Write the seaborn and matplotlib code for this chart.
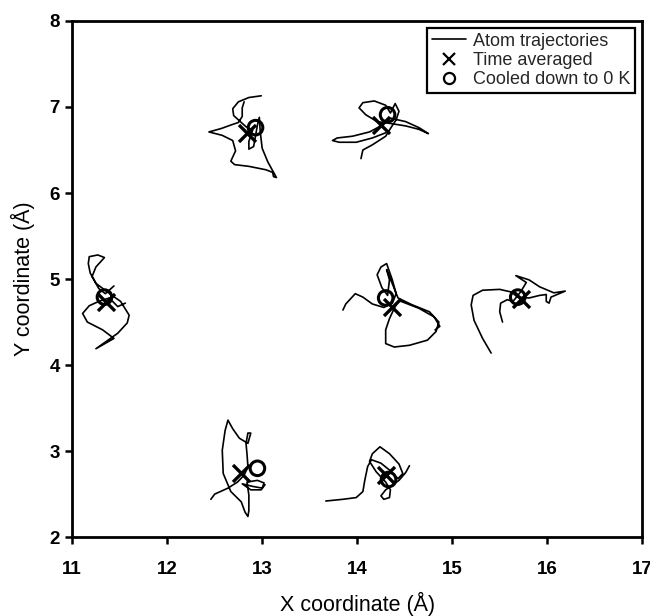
import numpy as np
import pandas as pd
import matplotlib
matplotlib.use("Agg")
import matplotlib.pyplot as plt
import seaborn as sns

# Trajectory samples (Å) for each of the seven atoms
traj1_x = [12.99, 12.86, 12.75, 12.69, 12.70, 12.76, 12.83, 12.90, 12.86, 12.86, 12.91, 12.92,
           12.95, 12.97, 12.98, 13.00, 13.06, 13.12, 13.15, 13.12, 13.11, 13.04, 12.86, 12.71,
           12.67, 12.72, 12.69, 12.58, 12.44, 12.57, 12.67, 12.75, 12.79, 12.79, 12.81]
traj1_y = [7.13, 7.11, 7.06, 6.98, 6.90, 6.84, 6.77, 6.73, 6.60, 6.51, 6.54, 6.60,
           6.79, 6.88, 6.71, 6.52, 6.36, 6.24, 6.18, 6.19, 6.24, 6.27, 6.31, 6.33,
           6.37, 6.49, 6.61, 6.67, 6.71, 6.75, 6.79, 6.82, 6.89, 6.99, 7.06]

traj2_x = [14.04, 14.06, 14.16, 14.30, 14.35, 14.41, 14.44, 14.40, 14.35, 14.30, 14.18, 14.06,
           14.02, 14.09, 14.21, 14.34, 14.51, 14.65, 14.75, 14.65, 14.51, 14.35, 14.25, 14.13,
           13.95, 13.79, 13.74, 13.81, 13.99, 14.16, 14.30]
traj2_y = [6.40, 6.50, 6.56, 6.66, 6.75, 6.85, 6.95, 7.04, 6.93, 7.02, 7.07, 7.05,
           6.99, 6.91, 6.83, 6.81, 6.78, 6.74, 6.69, 6.76, 6.83, 6.87, 6.78, 6.71,
           6.66, 6.64, 6.61, 6.59, 6.59, 6.64, 6.70]

traj3_x = [11.44, 11.35, 11.28, 11.21, 11.25, 11.34, 11.27, 11.18, 11.17, 11.19, 11.25, 11.42,
           11.51, 11.60, 11.58, 11.48, 11.25, 11.44, 11.32, 11.16, 11.11, 11.18, 11.28, 11.39,
           11.48, 11.56]
traj3_y = [4.92, 4.83, 4.89, 5.03, 5.14, 5.25, 5.28, 5.26, 5.18, 5.07, 4.95, 4.81,
           4.74, 4.58, 4.49, 4.37, 4.19, 4.31, 4.41, 4.50, 4.60, 4.69, 4.74, 4.78,
           4.68, 4.72]

traj4_x = [13.85, 13.88, 13.98, 14.06, 14.16, 14.28, 14.37, 14.41, 14.37, 14.31, 14.25, 14.21,
           14.26, 14.32, 14.34, 14.31, 14.43, 14.58, 14.76, 14.86, 14.83, 14.74, 14.55, 14.39,
           14.30, 14.30, 14.34, 14.39, 14.44, 14.65, 14.81, 14.87, 14.82]
traj4_y = [4.64, 4.71, 4.83, 4.79, 4.71, 4.67, 4.72, 4.83, 4.99, 5.18, 5.14, 5.05,
           4.90, 4.81, 4.99, 5.11, 4.78, 4.70, 4.62, 4.50, 4.39, 4.29, 4.23, 4.21,
           4.25, 4.41, 4.54, 4.66, 4.75, 4.66, 4.56, 4.45, 4.41]

traj5_x = [15.41, 15.32, 15.23, 15.20, 15.22, 15.32, 15.50, 15.62, 15.69, 15.81, 15.92, 15.99,
           15.99, 16.02, 16.04, 16.19, 16.07, 15.92, 15.81, 15.67, 15.78, 15.72, 15.64, 15.58,
           15.51, 15.50, 15.53]
traj5_y = [4.14, 4.31, 4.52, 4.70, 4.81, 4.87, 4.88, 4.85, 4.79, 4.78, 4.81, 4.82,
           4.74, 4.72, 4.79, 4.86, 4.84, 4.91, 4.99, 5.04, 4.96, 4.85, 4.74, 4.76,
           4.72, 4.62, 4.50]

traj6_x = [12.46, 12.50, 12.64, 12.74, 12.81, 12.85, 12.84, 12.83, 12.85, 12.88, 12.85, 12.76,
           12.69, 12.64, 12.61, 12.58, 12.59, 12.67, 12.78, 12.82, 12.85, 12.86, 12.86, 12.84,
           12.95, 13.02, 13.00, 12.90, 12.79, 12.88, 12.99, 13.03]
traj6_y = [2.44, 2.50, 2.57, 2.64, 2.72, 2.82, 2.97, 3.09, 3.21, 3.21, 3.09, 3.15,
           3.26, 3.36, 3.24, 3.01, 2.74, 2.53, 2.41, 2.29, 2.24, 2.31, 2.49, 2.64,
           2.66, 2.63, 2.57, 2.59, 2.62, 2.55, 2.55, 2.61]

traj7_x = [13.67, 13.85, 13.99, 14.06, 14.08, 14.11, 14.15, 14.25, 14.34, 14.43, 14.48, 14.44,
           14.34, 14.24, 14.16, 14.13, 14.20, 14.30, 14.35, 14.34, 14.28, 14.25, 14.30, 14.44,
           14.51, 14.55]
traj7_y = [2.42, 2.44, 2.46, 2.53, 2.66, 2.82, 2.90, 2.86, 2.78, 2.68, 2.74, 2.85,
           2.97, 3.05, 2.97, 2.88, 2.76, 2.64, 2.55, 2.46, 2.44, 2.48, 2.55, 2.66,
           2.75, 2.83]

# Time-averaged positions (Å)
avg_x = [12.84, 14.25, 11.36, 14.37, 15.72, 12.78, 14.30]
avg_y = [6.70, 6.79, 4.73, 4.68, 4.77, 2.74, 2.72]

# Positions after cooling down to 0 K (Å)
cool_x = [12.93, 14.32, 11.34, 14.30, 15.69, 12.95, 14.33]
cool_y = [6.76, 6.91, 4.79, 4.78, 4.79, 2.80, 2.67]

x_ticks = [11, 12, 13, 14, 15, 16, 17]
y_ticks = [2, 3, 4, 5, 6, 7, 8]

trajectories = [
    (traj1_x, traj1_y), (traj2_x, traj2_y), (traj3_x, traj3_y), (traj4_x, traj4_y),
    (traj5_x, traj5_y), (traj6_x, traj6_y), (traj7_x, traj7_y),
]
frames = []
for i, (tx, ty) in enumerate(trajectories):
    frames.append(pd.DataFrame({"x": tx, "y": ty, "atom": i, "step": np.arange(len(tx))}))
traj_df = pd.concat(frames, ignore_index=True)
avg_df = pd.DataFrame({"x": avg_x, "y": avg_y})
cool_df = pd.DataFrame({"x": cool_x, "y": cool_y})

sns.set_theme(style="white")
plt.rcParams["font.family"] = ["Liberation Sans", "DejaVu Sans"]

fig = plt.figure(figsize=(6.5, 6.16), dpi=100)
ax = fig.add_axes([0.111, 0.128, 0.877, 0.838])

sns.lineplot(data=traj_df, x="x", y="y", units="atom", estimator=None, sort=False,
             color="black", linewidth=1.2, ax=ax, legend=False)
sns.scatterplot(data=avg_df, x="x", y="y", marker="x", s=150, color="black",
                linewidth=2.4, ax=ax, legend=False, zorder=3)
sns.scatterplot(data=cool_df, x="x", y="y", marker="o", s=110, facecolor="none",
                edgecolor="black", linewidth=2.2, ax=ax, legend=False, zorder=3)

ax.set_xlim(11, 17)
ax.set_ylim(2, 8)
ax.set_xticks(x_ticks)
ax.set_yticks(y_ticks)
ax.set_xticklabels([str(t) for t in x_ticks], fontsize=13.5, fontweight="bold")
ax.set_yticklabels([str(t) for t in y_ticks], fontsize=13.5, fontweight="bold")
ax.tick_params(axis="both", direction="out", length=5, width=1.8, color="black",
               bottom=True, left=True, pad=4, labelcolor="black")
ax.tick_params(axis="x", pad=12)
for sp in ax.spines.values():
    sp.set_color("black")
    sp.set_linewidth(2.0)

ax.set_xlabel("X coordinate (Å)", fontsize=15.5, color="black", labelpad=10)
ax.set_ylabel("Y coordinate (Å)", fontsize=15.5, color="black", labelpad=10)

handles = [
    plt.Line2D([], [], color="black", linewidth=1.2),
    plt.Line2D([], [], color="black", marker="x", linestyle="none", markersize=9, markeredgewidth=1.6),
    plt.Line2D([], [], color="black", marker="o", linestyle="none", markersize=8,
               markerfacecolor="none", markeredgewidth=1.6),
]
labels = ["Atom trajectories", "Time averaged", "Cooled down to 0 K"]
leg = ax.legend(handles, labels, loc="upper right", fontsize=13, frameon=True,
                fancybox=False, edgecolor="black", framealpha=1, borderpad=0.25,
                labelspacing=0.12, handlelength=1.9, handletextpad=0.4,
                borderaxespad=0.4)
leg.get_frame().set_linewidth(1.6)

fig.savefig("out.png", dpi=100)
